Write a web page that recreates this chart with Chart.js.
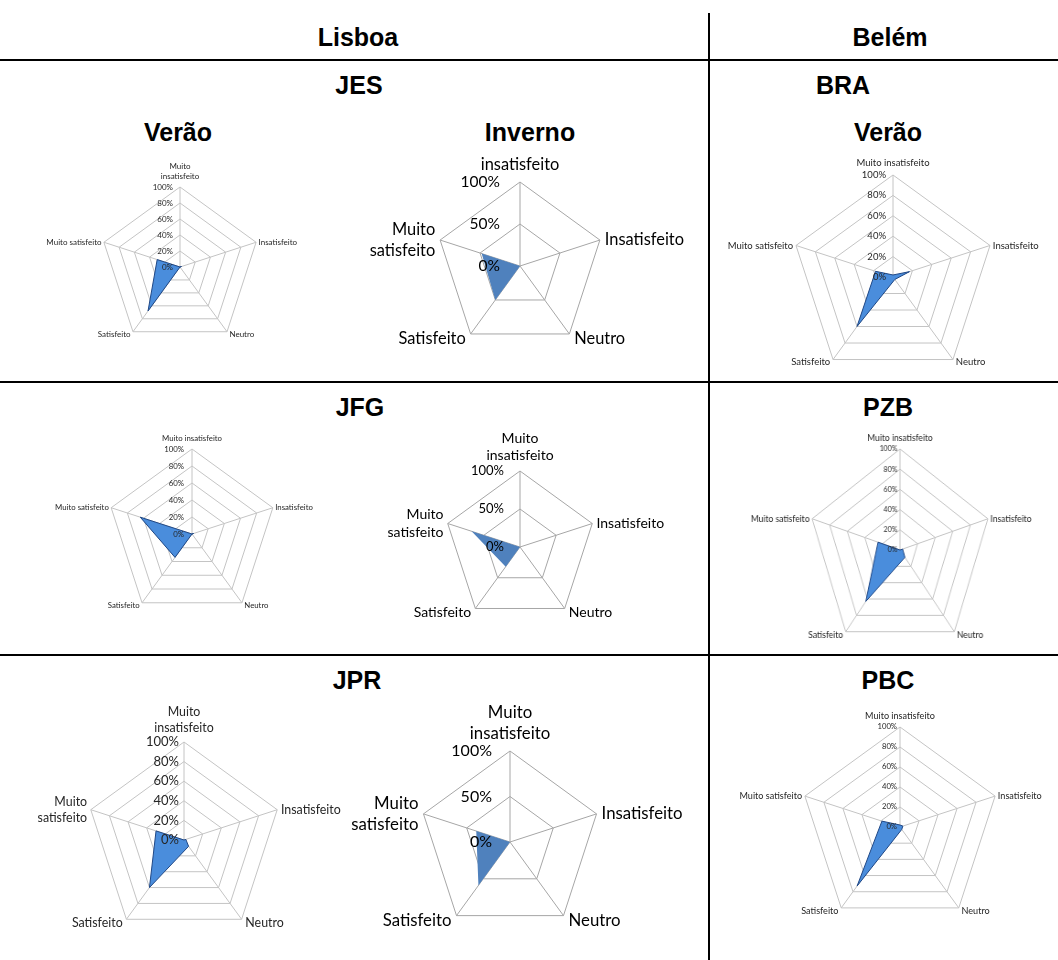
<!DOCTYPE html>
<html lang="pt">
<head>
<meta charset="utf-8">
<title>Satisfação – Lisboa e Belém</title>
<script src="https://cdn.jsdelivr.net/npm/chart.js@4/dist/chart.umd.min.js"></script>
<style>
  html, body { margin: 0; padding: 0; background: #fff; }
  #page { position: relative; width: 1058px; height: 960px; overflow: hidden; }
  .rule { position: absolute; background: #000; }
  .title { position: absolute; transform: translate(-50%, -50%); font: bold 25px "Liberation Sans", Arial, sans-serif;
           line-height: 1; white-space: nowrap; color: #000; }
  .box { position: absolute; }
  .box canvas { display: block; }
</style>
</head>
<body>
<div id="page"></div>
<script>
// ---- data -------------------------------------------------------------
const categories = ['Muito insatisfeito', 'Insatisfeito', 'Neutro', 'Satisfeito', 'Muito satisfeito'];

const jesVerao   = [0, 2, 0, 68, 30];
const jesInverno = [0, 2, 0, 50, 48];
const braVerao   = [2, 17, 3, 60, 18];
const jfgVerao   = [0, 2, 0, 34, 64];
const jfgInverno = [0, 1, 0, 32, 67];
const pzbVerao   = [0, 3, 9, 63, 25];
const jprVerao   = [0, 2, 8, 60, 30];
const jprInverno = [0, 2, 0, 59, 39];
const pbcVerao   = [2, 3, 3, 73, 19];

const ticksVerao   = [0, 20, 40, 60, 80, 100];
const ticksInverno = [0, 50, 100];

const cities  = ['Lisboa', 'Belém'];
const schools = ['JES', 'JFG', 'JPR', 'BRA', 'PZB', 'PBC'];
const seasons = ['Verão', 'Inverno'];

// ---- page frame: table rules and headings --------------------------------
const page = document.getElementById('page');
function rule(l, t, w, h) {
  const d = document.createElement('div');
  d.className = 'rule';
  Object.assign(d.style, { left: l + 'px', top: t + 'px', width: w + 'px', height: h + 'px' });
  page.appendChild(d);
}
function title(text, x, y) {
  const d = document.createElement('div');
  d.className = 'title';
  d.textContent = text;
  d.style.left = x + 'px';
  d.style.top = y + 'px';
  page.appendChild(d);
}
rule(0, 59, 1058, 2);
rule(0, 381, 1058, 2);
rule(0, 654, 1058, 2);
rule(708, 13, 2, 947);

title(cities[0], 358, 36.5);
title(cities[1], 890, 36.5);
title(schools[0], 359, 84.5);
title(schools[3], 843, 84.5);
title(seasons[0], 178, 131.5);
title(seasons[1], 530, 131.5);
title(seasons[0], 888, 131.5);
title(schools[1], 360, 407);
title(schools[4], 888, 407);
title(schools[2], 357, 680);
title(schools[5], 888, 680);

// ---- plugin: Excel-style axis texts --------------------------------------
const radarText = {
  id: 'radarText',
  afterDraw(chart) {
    const o = chart.options.plugins.radarText;
    const r = chart.scales.r;
    const ctx = chart.ctx;
    ctx.save();
    ctx.fillStyle = o.color;
    ctx.textBaseline = 'middle';

    // percentage values beside the top spoke
    ctx.font = o.tickSize + 'px Lato';
    ctx.textAlign = 'right';
    r.ticks.forEach(t => {
      const p = r.getPointPositionForValue(0, t.value);
      ctx.fillText(t.value + '%', p.x - o.tickGap, p.y);
    });

    // category names at the spoke ends
    ctx.font = o.labelSize + 'px Lato';
    const lh = o.labelSize * 1.27;
    const gap = o.labelSize * 0.3;
    chart.data.labels.forEach((lab, i) => {
      const lines = Array.isArray(lab) ? lab : [lab];
      const p = r.getPointPositionForValue(i, r.max);
      let x = p.x, y;
      if (i === 0) {
        ctx.textAlign = 'center';
        y = p.y - (o.labelSize * 0.8 + 4) - (lines.length - 1) * lh;
      } else {
        const right = p.x > r.xCenter;
        ctx.textAlign = right ? 'left' : 'right';
        x = p.x + (right ? gap : -gap);
        y = p.y + (p.y > r.yCenter ? gap : 0) - (lines.length - 1) * lh / 2;
      }
      lines.forEach((ln, k) => ctx.fillText(ln, x, y + k * lh));
    });
    ctx.restore();
  }
};

// ---- chart factory --------------------------------------------------------
function labelsFor(wrap) {
  return categories.map((c, i) =>
    wrap.includes(i) && c.startsWith('Muito ') ? ['Muito', c.slice(6)] : c);
}

function radar(spec) {
  const { box, cx, cy, R, values, ticks, wrap, labelSize, tickSize, tickGap, style, squeeze } = spec;
  const holder = document.createElement('div');
  holder.className = 'box';
  Object.assign(holder.style, {
    left: box[0] + 'px', top: box[1] + 'px', width: box[2] + 'px', height: box[3] + 'px'
  });
  if (style === 'summer') holder.style.filter = 'blur(0.5px)';
  if (squeeze) {
    holder.style.transformOrigin = (cx - box[0]) + 'px 50%';
    holder.style.transform = 'scaleX(' + squeeze + ')';
  }
  const canvas = document.createElement('canvas');
  holder.appendChild(canvas);
  page.appendChild(holder);

  const pad = {
    left: cx - R - box[0],
    right: box[0] + box[2] - (cx + R),
    top: cy - R - box[1],
    bottom: box[1] + box[3] - (cy + R)
  };

  const summer = style === 'summer';
  const fill = summer
    ? (c) => {
        const a = c.chart.chartArea;
        if (!a) return '#336fc4';
        const g = c.chart.ctx.createLinearGradient(0, cy - R * 0.3, 0, cy + R * 0.8);
        g.addColorStop(0, '#4a8ddc');
        g.addColorStop(1, '#1a4894');
        return g;
      }
    : '#4f81bd';

  new Chart(canvas, {
    type: 'radar',
    data: {
      labels: labelsFor(wrap),
      datasets: [{
        data: values,
        fill: true,
        backgroundColor: fill,
        borderColor: summer ? '#1f4785' : '#4f81bd',
        borderWidth: summer ? 1 : 0,
        pointRadius: 0,
        pointHoverRadius: 0,
        tension: 0
      }]
    },
    options: {
      responsive: true,
      maintainAspectRatio: false,
      animation: false,
      events: [],
      layout: { padding: pad },
      plugins: {
        legend: { display: false },
        tooltip: { enabled: false },
        radarText: { color: summer ? '#262626' : '#000', labelSize, tickSize, tickGap }
      },
      scales: {
        r: {
          min: ticks[0],
          max: ticks[ticks.length - 1],
          ticks: { display: false, stepSize: ticks[1] - ticks[0] },
          pointLabels: { display: false },
          grid: { color: summer ? '#c4c4c4' : '#a6a6a6', lineWidth: 1 },
          angleLines: { color: summer ? '#c4c4c4' : '#a6a6a6', lineWidth: 1 }
        }
      }
    },
    plugins: [radarText]
  });
}

// ---- the nine charts ------------------------------------------------------
radar({ box: [20, 150, 330, 200], cx: 180, cy: 267, R: 80, values: jesVerao, ticks: ticksVerao,
        wrap: [0], labelSize: 8, tickSize: 8, tickGap: 7, style: 'summer' });
radar({ box: [355, 153, 350, 200], cx: 520, cy: 266, R: 84, values: jesInverno, ticks: ticksInverno,
        wrap: [0, 4], labelSize: 16.4, tickSize: 15.5, tickGap: 20, style: 'winter' });
radar({ box: [712, 150, 346, 232], cx: 893, cy: 277, R: 102, values: braVerao, ticks: ticksVerao,
        wrap: [], labelSize: 9.5, tickSize: 9.5, tickGap: 7, style: 'summer' });

radar({ box: [20, 425, 330, 200], cx: 192, cy: 534, R: 85, values: jfgVerao, ticks: ticksVerao,
        wrap: [], labelSize: 7.8, tickSize: 7.8, tickGap: 8, style: 'summer' });
radar({ box: [355, 425, 350, 200], cx: 520, cy: 547, R: 76, values: jfgInverno, ticks: ticksInverno,
        wrap: [0, 4], labelSize: 14, tickSize: 13, tickGap: 16, style: 'winter' });
radar({ box: [712, 420, 346, 234], cx: 900, cy: 550, R: 101, values: pzbVerao, ticks: ticksVerao,
        wrap: [], labelSize: 9.3, tickSize: 7.6, tickGap: 3, style: 'summer', squeeze: 0.915 });

radar({ box: [5, 695, 345, 250], cx: 184, cy: 840, R: 98, values: jprVerao, ticks: ticksVerao,
        wrap: [0, 4], labelSize: 12.4, tickSize: 13, tickGap: 5, style: 'summer' });
radar({ box: [340, 695, 365, 250], cx: 510, cy: 842, R: 91, values: jprInverno, ticks: ticksInverno,
        wrap: [0, 4], labelSize: 16.8, tickSize: 16, tickGap: 18, style: 'winter' });
radar({ box: [712, 700, 346, 232], cx: 900, cy: 827, R: 100, values: pbcVerao, ticks: ticksVerao,
        wrap: [], labelSize: 9.1, tickSize: 7.7, tickGap: 3, style: 'summer' });
</script>
</body>
</html>
